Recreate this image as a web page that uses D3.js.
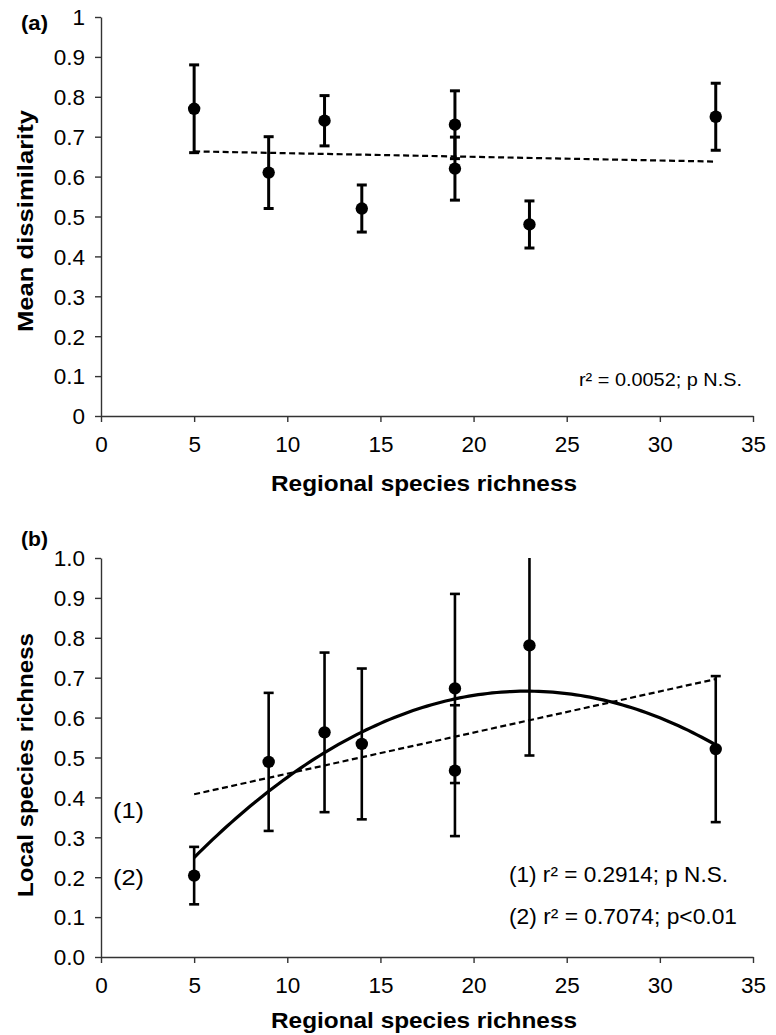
<!DOCTYPE html>
<html>
<head>
<meta charset="utf-8">
<script src="https://cdn.jsdelivr.net/npm/d3@7"></script>
<style>
  html, body { margin: 0; padding: 0; background: #fff; }
  svg { display: block; }
  text { font-family: "Liberation Sans", Arial, sans-serif; fill: #000; }
</style>
</head>
<body>
<svg id="chart" width="776" height="1035"></svg>
<script>
// Regional species richness of each site group (x values shared by both panels)
const richness = [5, 9, 12, 14, 19, 19, 23, 33];

// Panel (a): mean dissimilarity with error
const dissimMean = [0.77, 0.61, 0.74, 0.52, 0.73, 0.62, 0.48, 0.75];
const dissimErr  = [0.11, 0.09, 0.063, 0.059, 0.085, 0.079, 0.059, 0.084];

// Panel (b): local species richness with error
const localMean = [0.204, 0.489, 0.563, 0.534, 0.673, 0.467, 0.781, 0.521];
const localErr  = [0.072, 0.173, 0.2, 0.189, 0.237, 0.164, 0.276, 0.183];

const xTicks = [0, 5, 10, 15, 20, 25, 30, 35];
const yTicks = [0, 0.1, 0.2, 0.3, 0.4, 0.5, 0.6, 0.7, 0.8, 0.9, 1];

const annotA = "r\u00B2 = 0.0052; p N.S.";
const annotB1 = "(1) r\u00B2 = 0.2914; p N.S.";
const annotB2 = "(2) r\u00B2 = 0.7074; p<0.01";

const svg = d3.select("#chart");
svg.append("rect").attr("width", 776).attr("height", 1035).attr("fill", "#fff");

// least-squares fits
function linFit(xs, ys) {
  const n = xs.length, mx = d3.mean(xs), my = d3.mean(ys);
  let sxy = 0, sxx = 0;
  for (let i = 0; i < n; i++) { sxy += (xs[i]-mx)*(ys[i]-my); sxx += (xs[i]-mx)**2; }
  const b = sxy / sxx;
  return x => my + b * (x - mx);
}
function quadFit(xs, ys) {
  // normal equations for y = c0 + c1 x + c2 x^2
  const S = k => d3.sum(xs, x => x ** k);
  const T = k => d3.sum(xs, (x, i) => ys[i] * x ** k);
  const A = [[S(0), S(1), S(2)], [S(1), S(2), S(3)], [S(2), S(3), S(4)]];
  const B = [T(0), T(1), T(2)];
  // Gaussian elimination
  for (let i = 0; i < 3; i++) {
    for (let j = i + 1; j < 3; j++) {
      const f = A[j][i] / A[i][i];
      for (let k = i; k < 3; k++) A[j][k] -= f * A[i][k];
      B[j] -= f * B[i];
    }
  }
  const c = [0, 0, 0];
  for (let i = 2; i >= 0; i--) {
    let s = B[i];
    for (let k = i + 1; k < 3; k++) s -= A[i][k] * c[k];
    c[i] = s / A[i][i];
  }
  return x => c[0] + c[1] * x + c[2] * x * x;
}

const x = d3.scaleLinear().domain([0, 35]).range([101, 753]);

function drawPanel(opts) {
  const y = d3.scaleLinear().domain([0, 1]).range([opts.y0, opts.y1]);
  const g = svg.append("g");

  // axes
  const xAxis = d3.axisBottom(x).tickValues(xTicks).tickSize(6).tickSizeOuter(0)
    .tickPadding(14).tickFormat(d3.format("d"));
  const gx = g.append("g").attr("transform", `translate(0,${opts.y0})`).call(xAxis);
  const yAxis = d3.axisLeft(y).tickValues(yTicks).tickSize(6).tickSizeOuter(0)
    .tickPadding(10).tickFormat(opts.fmt);
  const gy = g.append("g").attr("transform", "translate(101,0)").call(yAxis);
  [gx, gy].forEach(a => {
    a.selectAll("path.domain").attr("stroke", "#333").attr("stroke-width", 1.4);
    a.selectAll(".tick line").attr("stroke", "#333").attr("stroke-width", 1.4);
    a.selectAll(".tick text").attr("font-size", 22.5).attr("fill", "#000")
      .attr("font-family", "'Liberation Sans', Arial, sans-serif");
  });
  gy.selectAll(".tick text").attr("dy", "0.35em");

  // fitted lines
  const xs = d3.range(5, 33.001, 0.25);
  const line = d3.line().x(d => x(d[0])).y(d => y(d[1]));
  const lf = linFit(richness, opts.mean);
  g.append("path").datum([[5, lf(5)], [33, lf(33)]])
    .attr("d", line).attr("fill", "none").attr("stroke", "#000")
    .attr("stroke-width", 2.2).attr("stroke-dasharray", "6,3.5");
  if (opts.quad) {
    const qf = quadFit(richness, opts.mean);
    g.append("path").datum(xs.map(v => [v, qf(v)]))
      .attr("d", line).attr("fill", "none").attr("stroke", "#000")
      .attr("stroke-width", 3.2).attr("stroke-linejoin", "round");
  }

  // error bars
  const pts = richness.map((r, i) => ({ r, m: opts.mean[i], e: opts.err[i] }));
  const eb = g.append("g").selectAll("g").data(pts).join("g");
  eb.append("line")
    .attr("x1", d => x(d.r)).attr("x2", d => x(d.r))
    .attr("y1", d => y(Math.min(1, d.m + d.e))).attr("y2", d => y(d.m - d.e))
    .attr("stroke", "#000").attr("stroke-width", opts.barW);
  eb.filter(d => d.m + d.e <= 1).append("line")
    .attr("x1", d => x(d.r) - 5).attr("x2", d => x(d.r) + 5)
    .attr("y1", d => y(d.m + d.e)).attr("y2", d => y(d.m + d.e))
    .attr("stroke", "#000").attr("stroke-width", opts.barW);
  eb.append("line")
    .attr("x1", d => x(d.r) - 5).attr("x2", d => x(d.r) + 5)
    .attr("y1", d => y(d.m - d.e)).attr("y2", d => y(d.m - d.e))
    .attr("stroke", "#000").attr("stroke-width", opts.barW);

  // points
  g.append("g").selectAll("circle").data(pts).join("circle")
    .attr("cx", d => x(d.r)).attr("cy", d => y(d.m)).attr("r", 6.2).attr("fill", "#000");

  // panel letter
  g.append("text").attr("x", 21).attr("y", opts.letterY)
    .attr("font-size", 21).attr("font-weight", "bold")
    .attr("textLength", 27).attr("lengthAdjust", "spacingAndGlyphs").text(opts.letter);

  // axis titles
  g.append("text").attr("x", 424).attr("y", opts.xTitleY)
    .attr("text-anchor", "middle").attr("font-size", 22).attr("font-weight", "bold")
    .attr("textLength", 306).attr("lengthAdjust", "spacingAndGlyphs")
    .text("Regional species richness");
  g.append("text")
    .attr("transform", `translate(33,${opts.yTitleC}) rotate(-90)`)
    .attr("text-anchor", "middle").attr("font-size", 22).attr("font-weight", "bold")
    .attr("textLength", opts.yTitleLen).attr("lengthAdjust", "spacingAndGlyphs")
    .text(opts.yTitle);
  return g;
}

const gA = drawPanel({
  y0: 416, y1: 17, mean: dissimMean, err: dissimErr, fmt: d3.format("~g"),
  quad: false, barW: 3, letter: "(a)", letterY: 30, xTitleY: 491,
  yTitle: "Mean dissimilarity", yTitleC: 221, yTitleLen: 222
});
gA.append("text").attr("x", 742).attr("y", 386).attr("text-anchor", "end")
  .attr("font-family", "Lato, 'Open Sans', sans-serif").attr("font-size", 18.5)
  .attr("textLength", 163).attr("lengthAdjust", "spacingAndGlyphs").text(annotA);

const gB = drawPanel({
  y0: 957, y1: 558, mean: localMean, err: localErr, fmt: d3.format(".1f"),
  quad: true, barW: 2.6, letter: "(b)", letterY: 546, xTitleY: 1028,
  yTitle: "Local species richness", yTitleC: 765, yTitleLen: 264
});
gB.append("text").attr("x", 113).attr("y", 818).attr("font-size", 22.5)
  .attr("textLength", 31).attr("lengthAdjust", "spacingAndGlyphs").text("(1)");
gB.append("text").attr("x", 113).attr("y", 885).attr("font-size", 22.5)
  .attr("textLength", 31).attr("lengthAdjust", "spacingAndGlyphs").text("(2)");
gB.append("text").attr("x", 509).attr("y", 882).attr("font-size", 21.5)
  .attr("textLength", 219).attr("lengthAdjust", "spacingAndGlyphs").text(annotB1);
gB.append("text").attr("x", 509).attr("y", 924).attr("font-size", 21.5)
  .attr("textLength", 228).attr("lengthAdjust", "spacingAndGlyphs").text(annotB2);
</script>
</body>
</html>
